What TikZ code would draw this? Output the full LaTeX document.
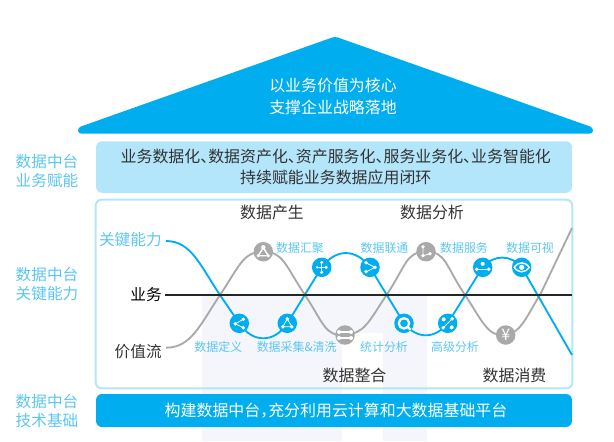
\documentclass[tikz,border=0pt]{standalone}
\usepackage{fontspec}
\setmainfont{Noto Sans CJK SC}
\usepackage{xcolor}
\usepackage{tikz}
\usetikzlibrary{backgrounds}
\definecolor{roofblue}{HTML}{00ADEF}
\definecolor{paleblue}{HTML}{B3E5FB}
\definecolor{labelblue}{HTML}{5BC6F3}
\definecolor{curvegray}{HTML}{A9A9A9}
\definecolor{inkgray}{HTML}{333333}
\definecolor{markpale}{HTML}{F5F6FB}
\newcommand{\bigtxt}{\fontsize{9.07}{12.25}\selectfont}
\newcommand{\sidetxt}{\fontsize{8.9}{10.4}\selectfont}
\newcommand{\smalltxt}{\fontsize{6.8}{8}\selectfont}
\newcommand{\dun}{、\hspace{-.5em}}

\tikzset{
  icn/.style={white, line width=0.45pt},
  pics/shareicon/.style={code={
    \draw[icn] (4,-4) -- (-4,0.5) -- (4,4.5);
    \fill[white] (4,-4) circle (1.9) (-4,0.5) circle (1.9) (4,4.5) circle (1.9);}},
  pics/triicon/.style={code={
    \draw[icn] (0,-4.5) -- (-4.5,3.5) -- (4.5,3.5) -- cycle;
    \fill[white] (0,-4.5) circle (1.9) (-4.5,3.5) circle (1.9) (4.5,3.5) circle (1.9);}},
  pics/hubicon/.style={code={
    \draw[icn] (0,-5) -- (0,5) (-4.5,0) -- (4.5,0);
    \fill[white] (0,-5) circle (1.7) (0,5) circle (1.7) (-4.5,0) circle (1.3) (4.5,0) circle (1.7);}},
  pics/forkicon/.style={code={
    \draw[icn] (-4,-4.5) -- (5,0) -- (-4,4.5);
    \fill[white] (-4,-4.5) circle (1.9) (5,0) circle (1.9) (-4,4.5) circle (1.9);}},
  pics/searchicon/.style={code={
    \draw[white, line width=1.3pt] (0,0) circle (5.2);
    \draw[white, line width=1.3pt] (3.5,3.5) -- (6.5,6.5);}},
  pics/crossicon/.style={code={
    \draw[icn] (-4.5,4.5) -- (4.5,-4.5);
    \fill[white] (-4,-4) circle (2) (4.5,-4.5) circle (1.9) (-4.5,4.5) circle (1.9) (4,4) circle (2);}},
  pics/serveicon/.style={code={
    \draw[icn] (-6,2) -- (6,2);
    \fill[white] (0,-3.5) circle (2) (-6,2) circle (1.9) (6,2) circle (1.9);}},
  pics/eyeicon/.style={code={
    \draw[white, line width=0.8pt] (-7.5,0) .. controls (-3,-6) and (3,-6) .. (7.5,0) .. controls (3,6) and (-3,6) .. cycle;
    \fill[white] (0,0) circle (2.6);}},
  pics/gathericon/.style={code={
    \draw[white, line width=0.8pt] (0,-4) -- (-5,4) -- (5,4) -- cycle;
    \fill[white] (0,-4.5) circle (2.2) (-5,4) circle (1.8) (5,4) circle (1.8);}},
  pics/mergeicon/.style={code={
    \draw[white, line width=0.8pt] (-6,-3) -- (6,-3) (-6,3) -- (6,3);
    \fill[white] (-6,-3) circle (2) (6,-3) circle (2) (-6,3) circle (2) (6,3) circle (2);}},
  pics/linkicon/.style={code={
    \draw[icn] (-3,-5) -- (-3,4) -- (4,2);
    \fill[white] (-3,-5) circle (1.9) (-3,4) circle (1.9) (4,2) circle (1.9);}},
}

\begin{document}
\begin{tikzpicture}[
  x=0.02cm, y=-0.02cm,
  band/.style={rectangle, rounded corners=0.12cm, minimum width=9.52cm, align=center, font=\bigtxt},
  bubble/.style={circle, fill=roofblue, inner sep=0pt, minimum size=0.39cm},
  graybubble/.style={circle, fill=curvegray, inner sep=0pt, minimum size=0.39cm},
  sidelbl/.style={align=center, text=labelblue, font=\sidetxt, inner sep=0pt},
  phase/.style={text=inkgray, font=\bigtxt, inner sep=0pt},
  steplbl/.style={text=labelblue, font=\smalltxt, inner sep=0pt},
  rowlbl/.style={anchor=east, font=\sidetxt, inner sep=0pt},
  keycurve/.style={roofblue, line width=1.05pt},
  valcurve/.style={curvegray, line width=1.05pt},
]
\useasboundingbox (0,0) rectangle (614,441);

\fill[roofblue, rounded corners=0.06cm] (335,36.5) -- (593,127.5) -- (593,133.5) -- (78,133.5) -- (78,127.5) -- cycle;
\node[white, align=center, font=\bigtxt, inner sep=0pt] (roof) at (333,96.5) {以业务价值为核心\\支撑企业战略落地};

\node[band, fill=paleblue, text=inkgray, minimum height=1.03cm] (empower) at (334,167) {\hspace*{2pt}业务数据化\dun 数据资产化\dun 资产服务化\dun 服务业务化\dun 业务智能化\\\hspace*{2pt}持续赋能业务数据应用闭环};
\node[band, fill=roofblue, text=white, minimum height=0.66cm] (base) at (334,410.5) {\hspace*{2.3pt}构建数据中台，\hspace{-.5em}充分利用云计算和大数据基础平台};
\node[band, minimum height=3.76cm] (frame) at (334,294) {};

\node[sidelbl] (lbl1) at (47,171) {数据中台\\业务赋能};
\node[sidelbl] (lbl2) at (47,284) {数据中台\\关键能力};
\node[sidelbl] (lbl3) at (47,411) {数据中台\\技术基础};

\node[phase] (p1) at (272,212) {数据产生};
\node[phase] (p2) at (432,212) {数据分析};
\node[phase] (p3) at (354.5,375.5) {数据整合};
\node[phase] (p4) at (514.5,375.5) {数据消费};

\node[rowlbl, text=labelblue] (keylbl) at (162,239.5) {关键能力};
\node[rowlbl, text=black] (bizlbl) at (162,295) {业务};
\node[rowlbl, text=inkgray] (vallbl) at (162,352) {价值流};

\coordinate (k0) at (166,241);
\coordinate (k1) at (572,355);
\coordinate (g0) at (166,347.7);
\coordinate (g1) at (572,228);
\coordinate (b0) at (165,295);
\coordinate (b1) at (572,295);
\coordinate (gx1) at (220,295);
\coordinate (gx2) at (305,295);
\coordinate (gx3) at (386.5,295);
\coordinate (gx4) at (465,295);
\coordinate (gx5) at (540,295);

\node[bubble] (define) at (239.3,323.3) {};
\node[bubble] (collect) at (287.3,323.3) {};
\node[bubble] (hub) at (321.7,267.3) {};
\node[bubble] (join) at (370,267.3) {};
\node[bubble] (stat) at (404,323.3) {};
\node[bubble] (adv) at (447.7,323.3) {};
\node[bubble] (serve) at (482.7,267.3) {};
\node[bubble] (view) at (521.7,267.3) {};
\node[graybubble] (gather) at (263.3,251.7) {};
\node[graybubble] (merge) at (345,335) {};
\node[graybubble] (link) at (426,251.7) {};
\node[graybubble, text=white, font=\bigtxt] (money) at (505.7,335) {¥};

\pic at (define) {shareicon};
\pic at (collect) {triicon};
\pic at (hub) {hubicon};
\pic at (join) {forkicon};
\pic at (stat) {searchicon};
\pic at (adv) {crossicon};
\pic at (serve) {serveicon};
\pic at (view) {eyeicon};
\pic at (gather) {gathericon};
\pic at (merge) {mergeicon};
\pic at (link) {linkicon};

\node[steplbl] (t1) at (300,247.7) {数据汇聚};
\node[steplbl] (t2) at (384.5,247.7) {数据联通};
\node[steplbl] (t3) at (464,247.7) {数据服务};
\node[steplbl] (t4) at (530,247.7) {数据可视};
\node[steplbl] (t5) at (218.3,347.3) {数据定义};
\node[steplbl] (t6) at (296.7,347.3) {数据采集\&清洗};
\node[steplbl] (t7) at (384,347.3) {统计分析};
\node[steplbl] (t8) at (455,347.3) {高级分析};

\begin{pgfonlayer}{background}
\fill[markpale] (202,295) -- (427,295) -- (427,441) -- (383,441) -- (383,333) -- (342,333) -- (342,441) -- (202,441) -- cycle;
\draw[paleblue, line width=1.1pt, rounded corners=0.12cm] (frame.north west) rectangle (frame.south east);
\draw[valcurve] (g0) .. controls +(25,0) and +(-20,30) .. (gx1)
  .. controls +(20,-30) and +(-20,0) .. (gather.center)
  .. controls +(20,0) and +(-20,-30) .. (gx2)
  .. controls +(18,27) and +(-20,2) .. (merge.center)
  .. controls +(20,-2) and +(-18,27) .. (gx3)
  .. controls +(20,-30) and +(-20,0) .. (link.center)
  .. controls +(20,0) and +(-20,-30) .. (gx4)
  .. controls +(18,27) and +(-18,2) .. (money.center)
  .. controls +(16,-2) and +(-12,18) .. (gx5) -- (g1);
\draw[keycurve] (k0) .. controls +(25,0) and +(-20,-30) .. (gx1) -- (define.center)
  .. controls +(13,20) and +(-13,20) .. (collect.center) -- (hub.center)
  .. controls +(14,-19) and +(-14,-19) .. (join.center) -- (stat.center)
  .. controls +(13,16) and +(-13,16) .. (adv.center) -- (serve.center)
  .. controls +(11,-13) and +(-11,-13) .. (view.center) -- (k1);
\draw[black!85, line width=1.1pt] (b0) -- (b1);
\end{pgfonlayer}
\end{tikzpicture}
\end{document}
